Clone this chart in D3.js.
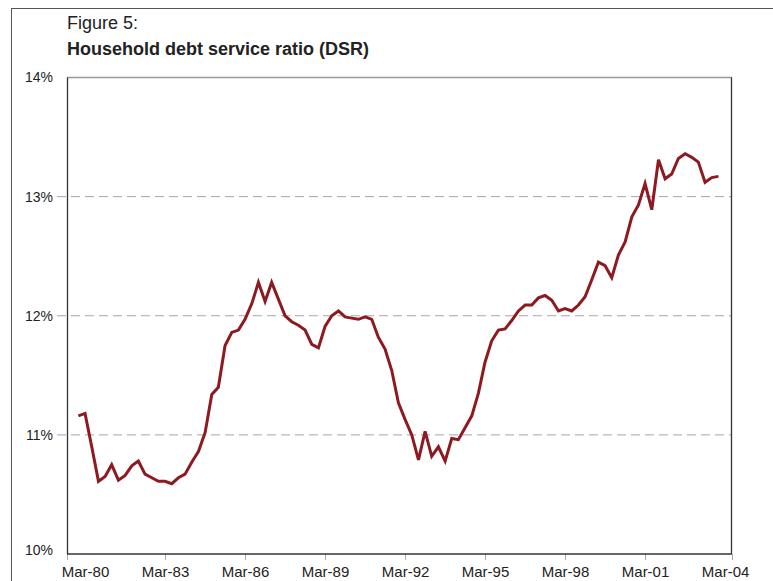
<!DOCTYPE html>
<html>
<head>
<meta charset="utf-8">
<script src="https://cdn.jsdelivr.net/npm/d3@7"></script>
<style>
  body { margin: 0; background: #fff; }
  text { font-family: Arial, "Liberation Sans", sans-serif; fill: #222; }
</style>
</head>
<body>
<svg width="773" height="581"></svg>
<script>
// quarterly DSR, Dec-79 .. Dec-03 (%)
var firstQuarter = new Date(1979, 11, 1);
var dsr = [
  11.16, 11.18, 10.90, 10.61, 10.65, 10.75, 10.62, 10.66, 10.74, 10.78,
  10.67, 10.64, 10.61, 10.61, 10.59, 10.64, 10.67, 10.77, 10.86, 11.02,
  11.34, 11.40, 11.75, 11.86, 11.88, 11.97, 12.10, 12.28, 12.12, 12.28,
  12.14, 12.00, 11.95, 11.92, 11.88, 11.76, 11.73, 11.91, 12.00, 12.04,
  11.99, 11.98, 11.97, 11.99, 11.97, 11.82, 11.72, 11.54, 11.27, 11.13,
  11.00, 10.79, 11.03, 10.82, 10.90, 10.78, 10.97, 10.96, 11.06, 11.16,
  11.35, 11.61, 11.79, 11.88, 11.89, 11.96, 12.04, 12.09, 12.09, 12.15,
  12.17, 12.13, 12.04, 12.06, 12.04, 12.09, 12.16, 12.30, 12.45, 12.42,
  12.32, 12.51, 12.62, 12.83, 12.93, 13.11, 12.89, 13.31, 13.15, 13.19,
  13.32, 13.36, 13.33, 13.29, 13.12, 13.16, 13.17
];
var yTicks = [10, 11, 12, 13, 14];
var xLabelYears = [1980, 1983, 1986, 1989, 1992, 1995, 1998, 2001, 2004];

var svg = d3.select("svg");
var plotLeft = 67, plotRight = 732, plotTop = 77.5, plotBottom = 554;

var data = dsr.map(function(v, i) {
  return { date: d3.timeMonth.offset(firstQuarter, 3 * i), value: v };
});

var x = d3.scaleTime()
    .domain([new Date(1979, 5, 28), new Date(2004, 5, 4)])
    .range([plotLeft, plotRight]);
var y = d3.scaleLinear().domain([10, 14]).range([plotBottom, plotTop]);

// outer frame
svg.append("rect")
    .attr("x", 11.5).attr("y", 8.5)
    .attr("width", 800).attr("height", 600)
    .attr("fill", "none").attr("stroke", "#555").attr("stroke-width", 1);

// titles
svg.append("text").attr("x", 67).attr("y", 29)
    .style("font-size", "18px").text("Figure 5:");
svg.append("text").attr("x", 67).attr("y", 55)
    .style("font-size", "18px").style("font-weight", "bold")
    .text("Household debt service ratio (DSR)");

// gridlines (dashed, with small tick stubs left of the axis)
svg.append("g")
  .selectAll("line")
  .data(yTicks.filter(function(d) { return d > 10 && d < 14; }))
  .enter().append("line")
    .attr("x1", plotLeft - 10).attr("x2", plotRight)
    .attr("y1", function(d) { return y(d); })
    .attr("y2", function(d) { return y(d); })
    .attr("stroke", "#a6a6a6")
    .attr("stroke-dasharray", "9,5");

// y labels
svg.append("g")
  .selectAll("text")
  .data(yTicks)
  .enter().append("text")
    .attr("x", 53)
    .attr("y", function(d) { return d === 10 ? y(d) - 4 : y(d); })
    .attr("dy", "0.35em")
    .attr("text-anchor", "end")
    .style("font-size", "14px")
    .text(function(d) { return d + "%"; });

// x tick marks: plot edges plus the inner label dates
var tickDates = [x.domain()[0]]
    .concat(xLabelYears.slice(1, -1).map(function(yr) { return new Date(yr, 2, 1); }))
    .concat([x.domain()[1]]);
svg.append("g")
    .attr("transform", "translate(0," + plotBottom + ")")
    .call(d3.axisBottom(x).tickValues(tickDates).tickSize(6).tickFormat(""))
    .call(function(g) {
      g.select(".domain").remove();
      g.selectAll(".tick line").attr("stroke", "#aaa");
    });

// x labels
var fmt = d3.timeFormat("%b-%y");
svg.append("g")
    .attr("transform", "translate(0," + plotBottom + ")")
    .call(d3.axisBottom(x)
        .tickValues(xLabelYears.map(function(yr) { return new Date(yr, 2, 1); }))
        .tickSize(0).tickPadding(12).tickFormat(fmt))
    .call(function(g) {
      g.select(".domain").remove();
      g.selectAll("text").style("font-size", "15px")
        .style("font-family", "Arial, 'Liberation Sans', sans-serif").attr("fill", "#222");
    });

// plot frame
svg.append("line").attr("x1", plotLeft).attr("x2", plotRight)
    .attr("y1", plotTop).attr("y2", plotTop)
    .attr("stroke", "#999").attr("stroke-width", 1.3);
svg.append("line").attr("x1", plotLeft + 0.5).attr("x2", plotLeft + 0.5)
    .attr("y1", plotTop).attr("y2", plotBottom)
    .attr("stroke", "#333").attr("stroke-width", 1.3);
svg.append("line").attr("x1", plotRight - 0.5).attr("x2", plotRight - 0.5)
    .attr("y1", plotTop).attr("y2", plotBottom)
    .attr("stroke", "#333").attr("stroke-width", 1.3);
svg.append("line").attr("x1", plotLeft).attr("x2", plotRight)
    .attr("y1", plotBottom).attr("y2", plotBottom)
    .attr("stroke", "#333").attr("stroke-width", 1.3);

// series
var line = d3.line()
    .x(function(d) { return x(d.date); })
    .y(function(d) { return y(d.value); });

svg.append("path")
    .datum(data)
    .attr("fill", "none")
    .attr("stroke", "#8c1a20")
    .attr("stroke-width", 3)
    .attr("stroke-linejoin", "miter")
    .attr("d", line);
</script>
</body>
</html>
